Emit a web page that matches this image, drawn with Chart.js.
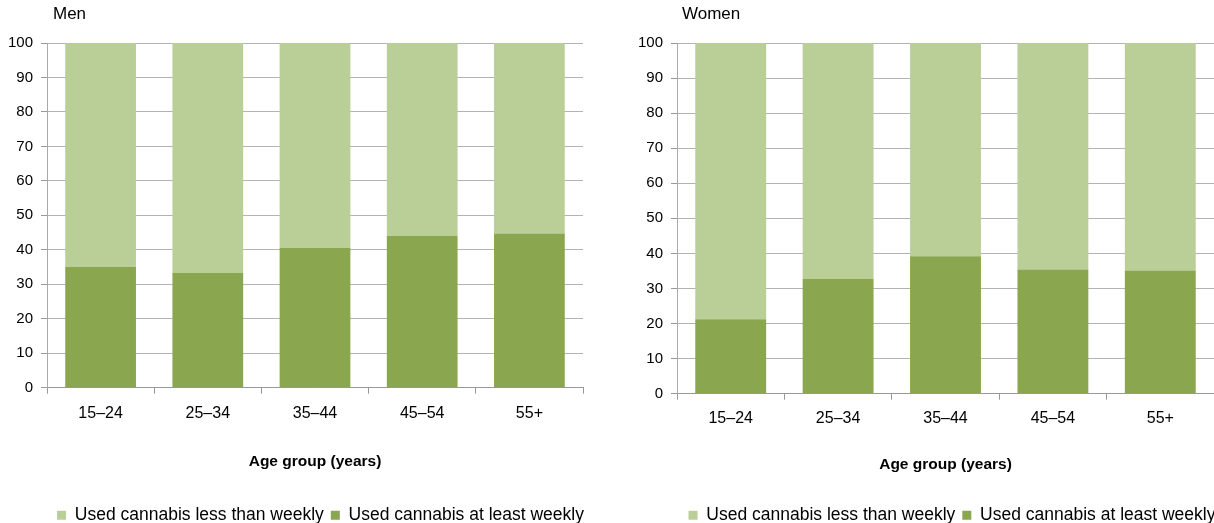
<!DOCTYPE html>
<html>
<head>
<meta charset="utf-8">
<script src="https://cdn.jsdelivr.net/npm/chart.js@4"></script>
<style>
  body { margin: 0; background: #fff; width: 1214px; height: 523px; position: relative; overflow: hidden; }
  .panel { position: absolute; top: 0; height: 534px; }
  .ttl { position: absolute; top: 4px; font: 17px "Liberation Sans", Arial, sans-serif; color: #000; }
</style>
</head>
<body>
<div class="panel" style="left:0;width:640px"><canvas id="men"></canvas></div>
<div class="panel" style="left:620px;width:664px"><canvas id="women"></canvas></div>
<div class="ttl" style="left:53px">Men</div>
<div class="ttl" style="left:682px">Women</div>
<script>
const ageGroups = ['15–24', '25–34', '35–44', '45–54', '55+'];
const menWeekly = [35.1, 33.3, 40.5, 44.1, 44.7];
const menLess = [64.9, 66.7, 59.5, 55.9, 55.3];
const womenWeekly = [21.2, 32.7, 39.2, 35.4, 35.1];
const womenLess = [78.8, 67.3, 60.8, 64.6, 64.9];
const yTicks = [0, 10, 20, 30, 40, 50, 60, 70, 80, 90, 100];

const darkGreen = '#8aa64f';
const lightGreen = '#bacf98';
const font = "'Liberation Sans', Arial, sans-serif";

// nudge the legend sideways so it sits where the original one does
const legendShift = {
    id: 'legend_shift',
    afterLayout: (chart, args, opts) => {
        const lg = chart.legend;
        if (!lg) return;
        lg.left += opts.dx;
        lg.right += opts.dx;
    }
};

function makeChart(id, weekly, less, opts) {
    const ctx = document.getElementById(id).getContext('2d');
    return new Chart(ctx, {
        type: 'bar',
        data: {
            labels: ageGroups,
            datasets: [{
                label: 'Used cannabis at least weekly',
                data: weekly,
                backgroundColor: darkGreen,
                barPercentage: 0.66,
                categoryPercentage: 1
            }, {
                label: 'Used cannabis less than weekly',
                data: less,
                backgroundColor: lightGreen,
                barPercentage: 0.66,
                categoryPercentage: 1
            }]
        },
        plugins: [legendShift],
        options: {
            responsive: true,
            maintainAspectRatio: false,
            animation: false,
            layout: { padding: { top: 43, right: opts.right, left: 0, bottom: 0 } },
            plugins: {
                tooltip: { enabled: false },
                legend_shift: { dx: opts.legendDx },
                legend: {
                    position: 'bottom',
                    reverse: true,
                    labels: {
                        boxWidth: 9, boxHeight: 9, padding: 7,
                        color: '#000',
                        font: { family: font, size: 17.5 }
                    }
                }
            },
            scales: {
                x: {
                    stacked: true,
                    border: { color: '#999', width: 1 },
                    grid: { offset: true, drawOnChartArea: false, drawTicks: true, tickLength: 6, color: '#999' },
                    ticks: { color: '#000', padding: opts.xPad, font: { family: font, size: 16 } },
                    title: {
                        display: true, text: 'Age group (years)', color: '#000',
                        font: { family: font, size: 15.5, weight: 'bold' },
                        padding: { top: opts.titleTop, bottom: opts.titleBottom }
                    }
                },
                y: {
                    stacked: true,
                    min: 0, max: 100,
                    afterBuildTicks: (scale) => { scale.ticks = yTicks.map(v => ({ value: v })); },
                    afterFit: (scale) => { scale.width = opts.yWidth; },
                    border: { color: '#aaa', width: 1 },
                    grid: { color: '#b3b3b3', tickLength: 6, tickColor: '#999' },
                    ticks: { color: '#000', padding: 8, font: { family: font, size: 15 } }
                }
            }
        }
    });
}

makeChart('men', menWeekly, menLess, { right: 57, yWidth: 47, xPad: 10, titleTop: 20, titleBottom: 28, legendDx: 29 });
makeChart('women', womenWeekly, womenLess, { right: 70, yWidth: 57, xPad: 9, titleTop: 19, titleBottom: 25, legendDx: 35 });
</script>
</body>
</html>
